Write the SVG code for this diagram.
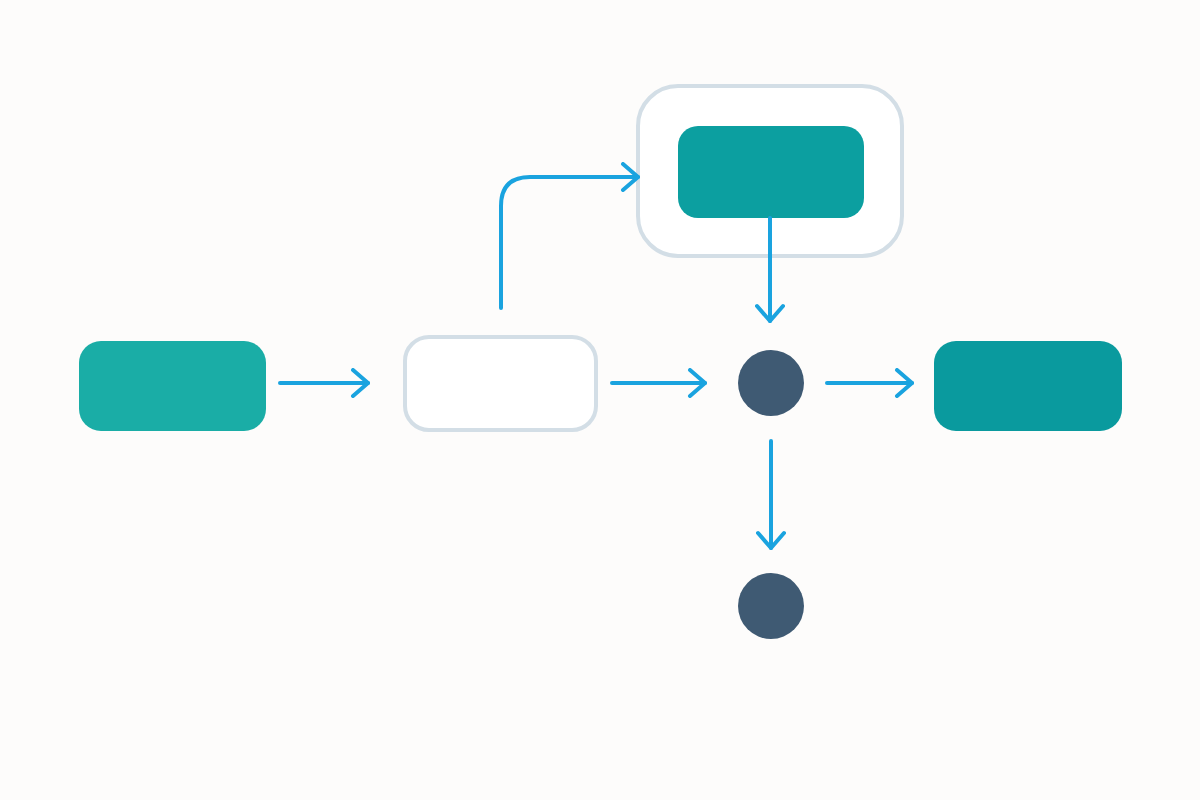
<svg xmlns="http://www.w3.org/2000/svg" width="1200" height="800" viewBox="0 0 1200 800">
<style>
.c{fill:none;stroke:#1AA3DF;stroke-width:4;stroke-linecap:round;stroke-linejoin:round}
.dot{fill:#3F5A73}
.frame{fill:#FFFFFF;stroke:#D3DEE6;stroke-width:4}
</style>
<defs>
<marker id="ah" viewBox="0 0 20 30" refX="18" refY="15" markerWidth="20" markerHeight="30" markerUnits="userSpaceOnUse" orient="auto">
<path d="M3,2 L18,15 L3,28" fill="none" stroke="#1AA3DF" stroke-width="4" stroke-linecap="round" stroke-linejoin="round"/>
</marker>
</defs>
<rect width="1200" height="800" fill="#FDFCFB"/>
<g id="container"><rect class="frame" x="638" y="86" width="264" height="170" rx="40" fill="none"/></g>
<g id="nodeA"><rect x="79" y="341" width="187" height="90" rx="22" fill="#1AADA6"/></g>
<g id="nodeB"><rect class="frame" x="405" y="337" width="191" height="93" rx="24"/></g>
<g id="nodeTop"><rect x="678" y="126" width="186" height="92" rx="20" fill="#0C9FA0"/></g>
<g id="nodeD"><rect x="934" y="341" width="188" height="90" rx="22" fill="#0A9A9E"/></g>
<g id="junction"><circle class="dot" cx="771" cy="383" r="33"/></g>
<g id="end"><circle class="dot" cx="771" cy="606" r="33"/></g>
<g id="connectors">
<path class="c" d="M280,383 H368" marker-end="url(#ah)"/>
<path class="c" d="M612,383 H705" marker-end="url(#ah)"/>
<path class="c" d="M827,383 H912" marker-end="url(#ah)"/>
<path class="c" d="M501,308 V206 Q501,177 530,177 H638" marker-end="url(#ah)"/>
<path class="c" d="M770,218 V321" marker-end="url(#ah)"/>
<path class="c" d="M771,441 V548" marker-end="url(#ah)"/>
</g>
</svg>
